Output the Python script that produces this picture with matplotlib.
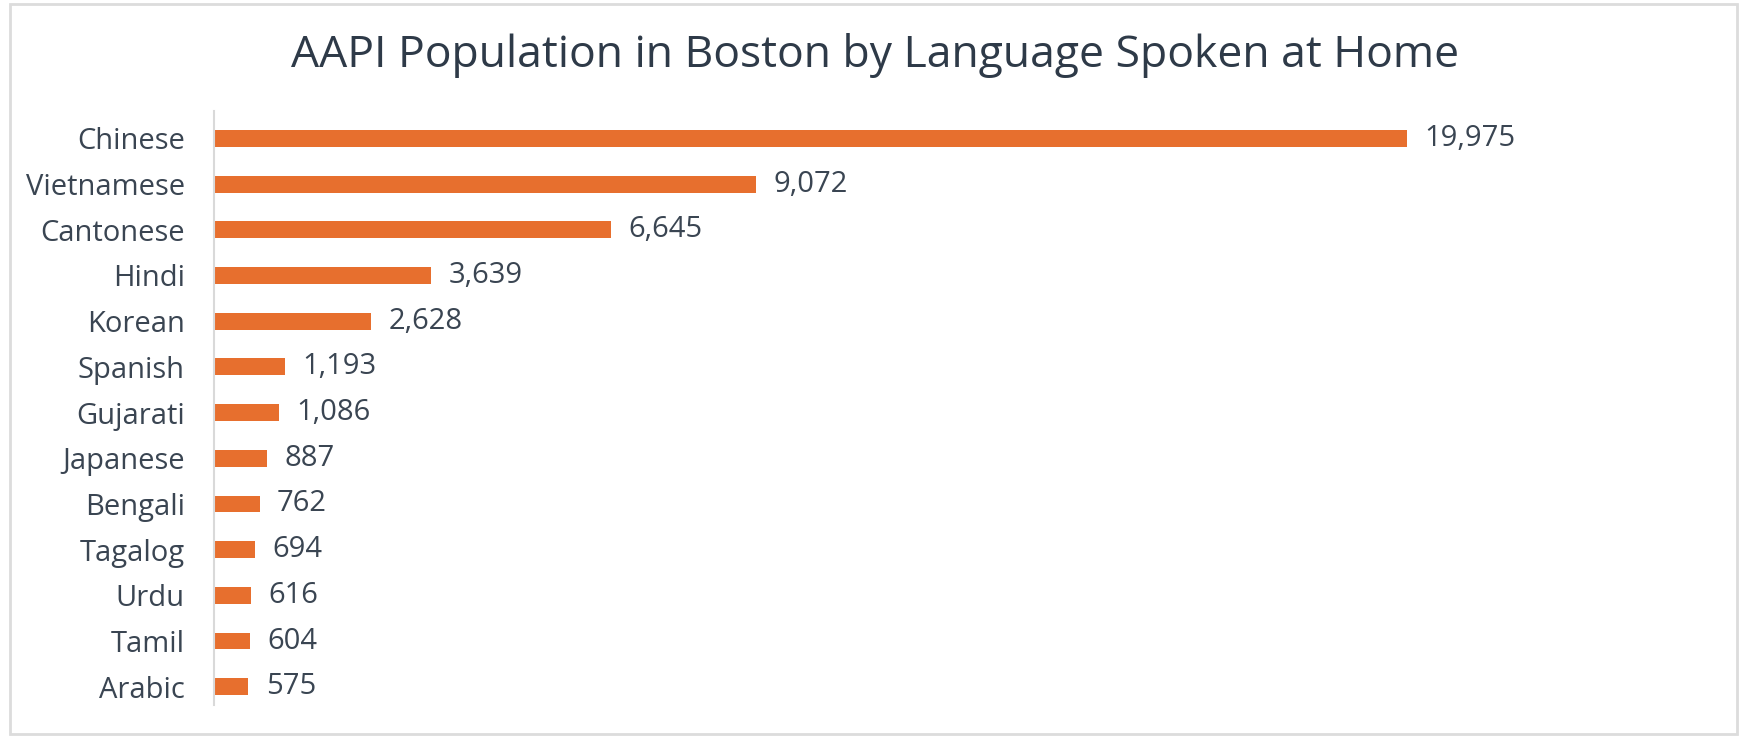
import matplotlib.pyplot as plt
from matplotlib.patches import Rectangle

# data
languages = ['Chinese', 'Vietnamese', 'Cantonese', 'Hindi', 'Korean', 'Spanish',
             'Gujarati', 'Japanese', 'Bengali', 'Tagalog', 'Urdu', 'Tamil', 'Arabic']
speakers = [19975, 9072, 6645, 3639, 2628, 1193, 1086, 887, 762, 694, 616, 604, 575]

bar_color = '#E76F2E'
text_color = '#3A4552'

plt.rcParams['font.family'] = ['Open Sans', 'DejaVu Sans']

fig = plt.figure(figsize=(17.4, 7.38), dpi=100)
ax = fig.add_axes([214 / 1740, 1 - 705 / 738, (1600 - 214) / 1740, (705 - 111) / 738])

ypos = list(range(len(languages)))
ax.barh(ypos, speakers, height=0.37, color=bar_color)

for y, v in zip(ypos, speakers):
    ax.text(v + 290, y, f'{v:,}', va='center', ha='left', fontsize=21, color=text_color)

ax.set_yticks(ypos)
ax.set_yticklabels(languages, fontsize=21, color=text_color)
ax.tick_params(axis='y', length=0, pad=21)
ax.set_xticks([])
ax.set_xlim(0, 23200)
ax.set_ylim(12.4, -0.6)

for s in ['top', 'right', 'bottom']:
    ax.spines[s].set_visible(False)
ax.spines['left'].set_color('#D9D9D9')
ax.spines['left'].set_linewidth(1.5)

fig.text(875 / 1740, 1 - 55 / 738, 'AAPI Population in Boston by Language Spoken at Home',
         ha='center', va='center', fontsize=32, color='#2E3A48')

# light frame around the chart
fig.patches.append(Rectangle((10 / 1740, 4 / 738), 1727 / 1740, 730 / 738,
                             transform=fig.transFigure, fill=False,
                             edgecolor='#DCDCDC', linewidth=2))

fig.savefig('out.png', dpi=100, facecolor='white')
